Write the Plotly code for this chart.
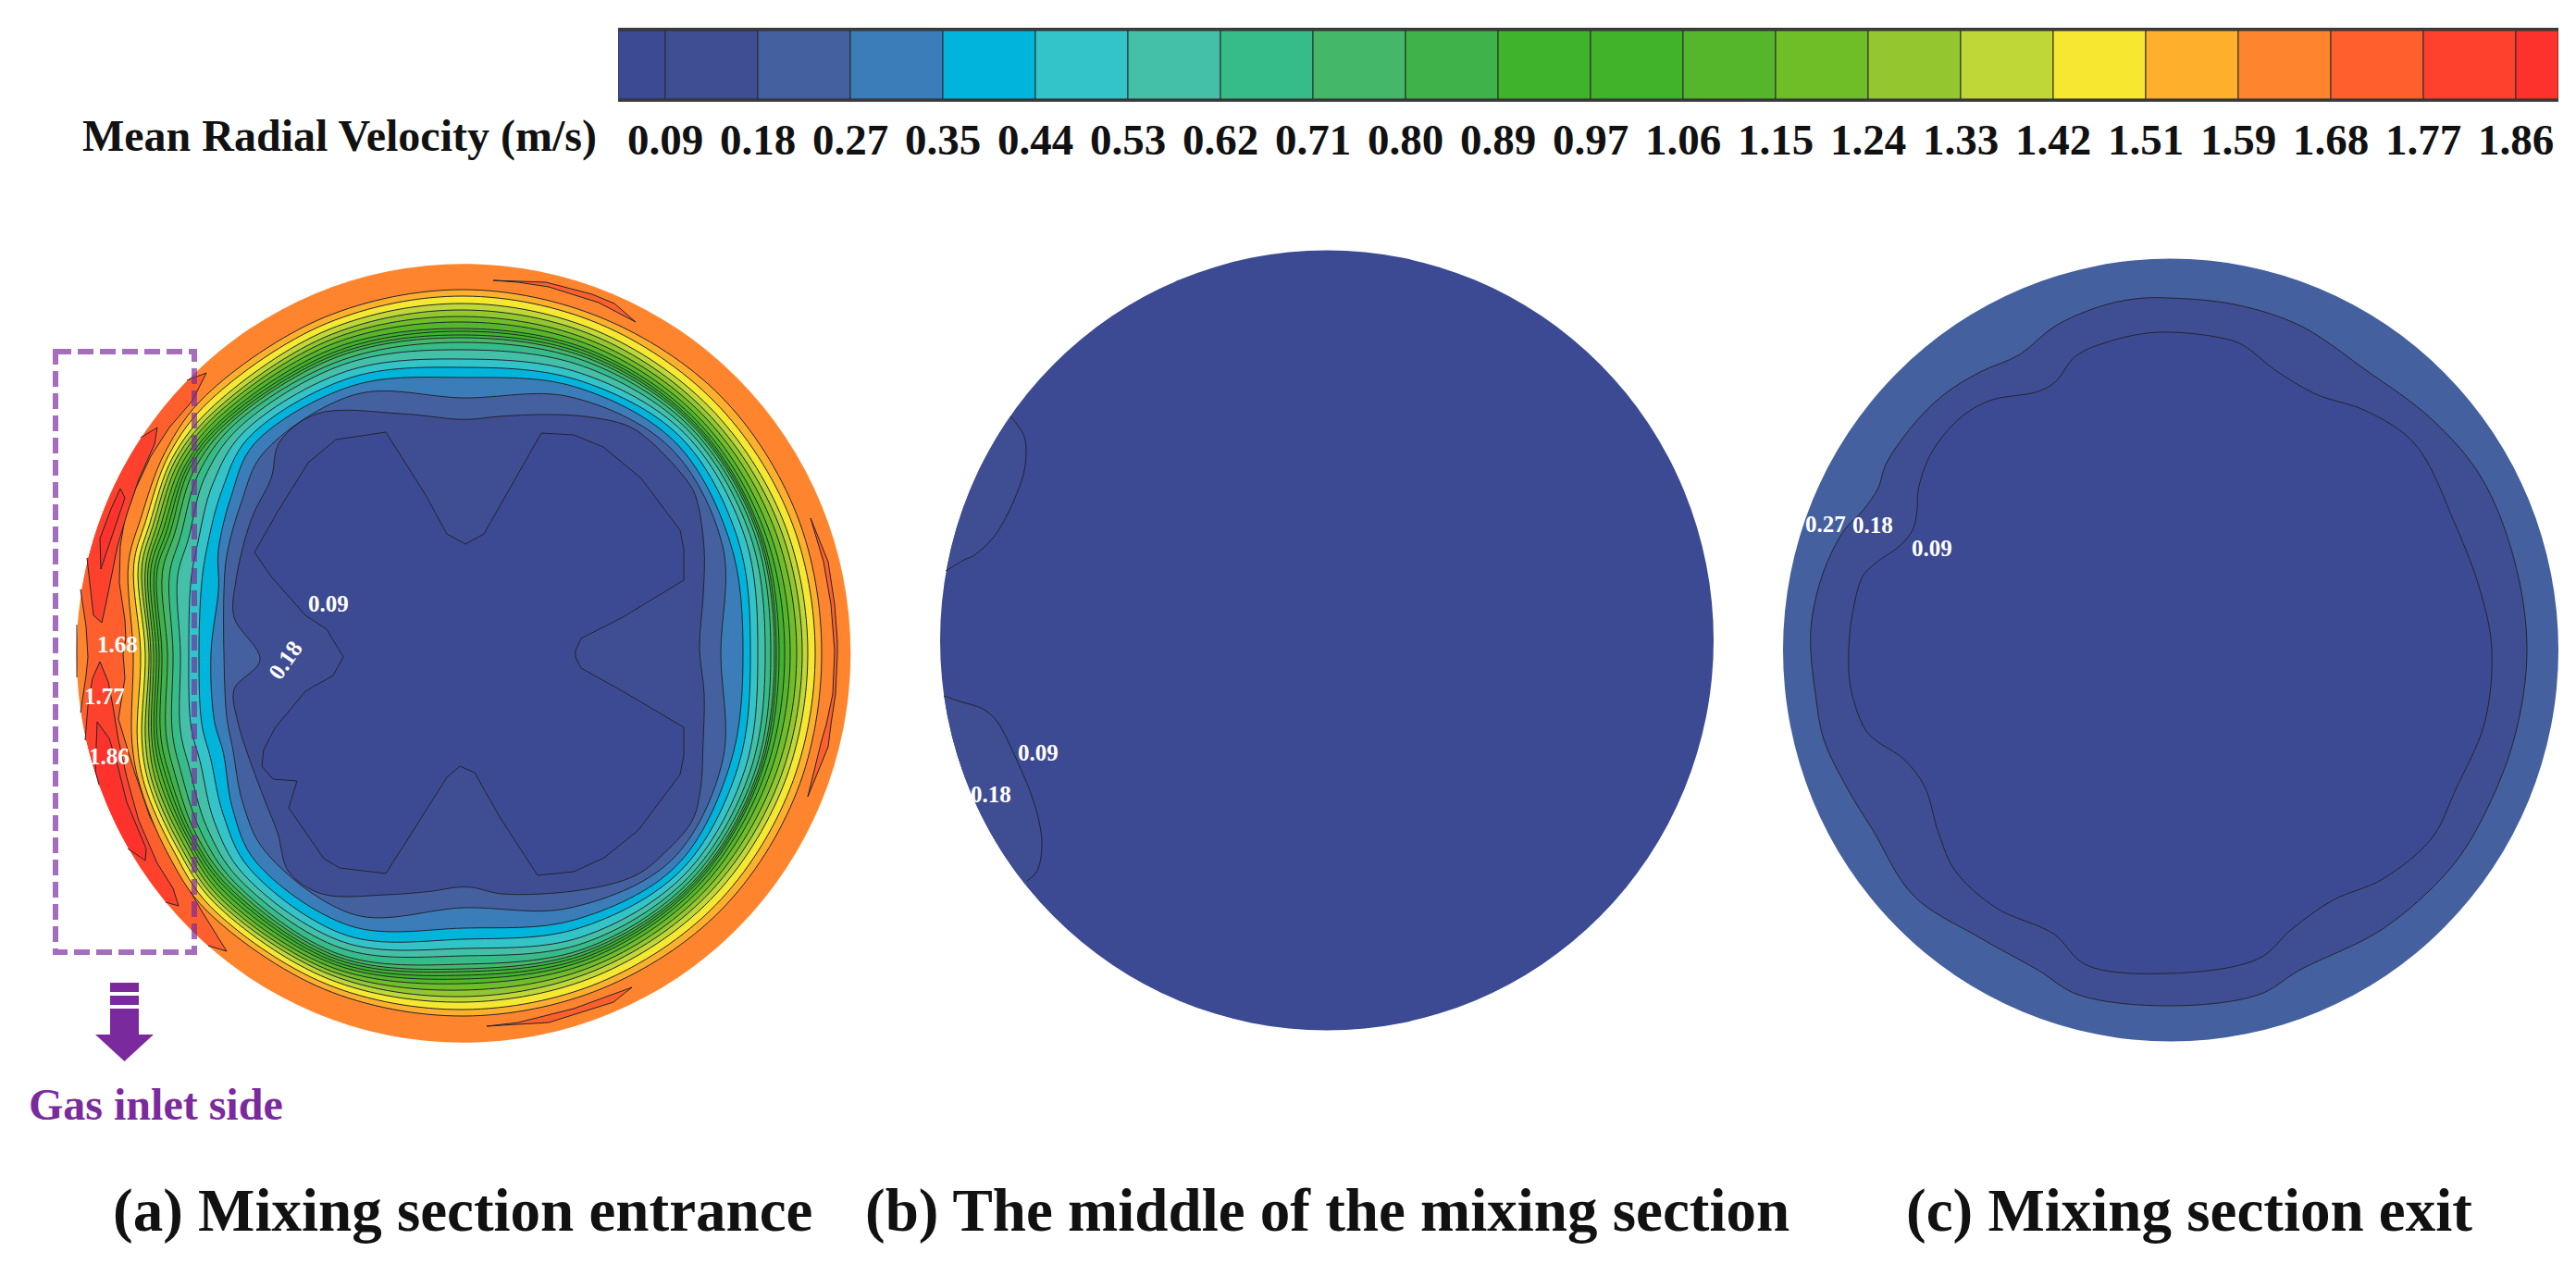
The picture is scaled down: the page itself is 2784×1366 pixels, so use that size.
import math
import plotly.graph_objects as go

W, H = 2784, 1366

# ---------- colour scale ----------
TICK_LABELS = ["0.09","0.18","0.27","0.35","0.44","0.53","0.62","0.71","0.80","0.89","0.97",
               "1.06","1.15","1.24","1.33","1.42","1.51","1.59","1.68","1.77","1.86"]
BAND_COLORS = ["#3B4A92","#3F4D93","#45609F","#3A7DB8","#00B4DC","#32C4C8","#44C0A8","#36BC88",
               "#44B868","#3EB34A","#3FB32C","#40B32B","#55B62B","#6FBE27","#93C72F","#BFD837",
               "#F6E831","#FEB02D","#FE852D","#FE5F2C","#FE412C","#FE322C"]

# ---------- panel (a): isoline radius (reference px from disk centre) by angle ----------
A_CENTER = (501, 706)
A_RX, A_RY = 418.3, 420.8
THETA_DEG = [0,22.5,45,67.5,90,112.5,135,146,157.5,165,180,195,202.5,214,225,247.5,270,292.5,315,337.5]
ISO_027 = [278,303,315,300,276,303,306,290,277,268,259,265,270,288,303,306,275,298,317,303]
ISO_035 = [302,312,323,312,298,313,320,303,287,274,273,279,281,301,318,319,297,312,325,312]
ISO_044 = [310,321,331,320,309,322,329,315,300,293,286,293,296,313,328,330,309,322,332,321]
ISO_053 = [318,329,337,328,318,330,337,327,311,305,297,305,308,325,337,338,319,332,338,329]
ISO_062 = [326,335,342,336,328,338,344,338,322,320,306,317,321,335,344,345,327,339,343,335]
ISO_071 = [332,340,346,342,336,343,350,346,331,329,314,326,331,343,350,352,336,345,347,340]
ISO_080 = [336,343,349,346,341,348,354,352,338,337,320,333,338,349,354,355,341,348,350,343]
ISO_089 = [338,345,351,349,344,351,357,357,343,343,326,339,344,353,358,358,344,351,352,345]
ISO_097 = [341,347,353,352,348,354,360,360,347,346,329,343,348,356,361,361,348,354,354,347]
ISO_106 = [347,351,356,355,351,358,363,363,351,350,332,346,352,359,365,364,352,357,357,351]
ISO_115 = [353,356,360,360,358,363,367,367,355,353,335,349,356,362,369,368,357,361,361,356]
ISO_124 = [360,362,365,365,364,368,371,371,359,356,338,352,360,366,373,372,364,366,366,362]
ISO_133 = [366,368,370,371,371,373,375,375,363,360,340,356,364,370,377,376,371,371,371,368]
ISO_142 = [372,374,376,377,378,379,380,379,367,364,344,360,368,374,381,381,377,377,377,374]
ISO_151 = [380,382,384,385,386,386,387,384,372,369,349,365,373,379,387,387,385,385,385,382]
ISO_159 = [387,390,393,392,393,393,394,389,378,375,357,371,378,386,393,393,392,392,393,390]
A_RINGS = [(18,ISO_159),(17,ISO_151),(16,ISO_142),(15,ISO_133),(14,ISO_124),(13,ISO_115),(12,ISO_106),
           (11,ISO_097),(10,ISO_089),(9,ISO_080),(8,ISO_071),(7,ISO_062),(6,ISO_053),(5,ISO_044),
           (4,ISO_035),(3,ISO_027)]

A_ISO_018 = [(253,667),(281,713),(253,745),(257,780),(267,813),(287,867),(300,900),(312,942),(348,966),
             (417,967),(467,963),(493,959),(510,959),(543,966),(627,962),(687,946),(720,920),(748,887),
             (757,853),(760,800),(761,750),(756,700),(760,643),(761,593),(753,540),(745,523),(703,477),
             (678,460),(632,450),(590,448),(540,450),(510,453),(493,453),(433,447),(343,447),(302,478),
             (293,517),(272,560),(255,627),(253,667)]
A_ISO_009 = [(417,467),(363,475),(333,500),(300,553),(275,597),(293,623),(330,665),(353,680),(371,710),
             (360,730),(330,747),(297,787),(285,810),(283,828),(295,842),(321,844),(312,873),(350,928),
             (367,938),(417,944),(447,897),(483,840),(497,828),(513,835),(540,883),(581,946),(620,942),
             (653,927),(690,897),(723,853),(735,837),(739,817),(739,786),(673,747),(628,722),(622,710),
             (622,703),(628,690),(673,667),(739,627),(739,593),(735,573),(693,517),(652,483),(620,470),
             (585,468),(523,577),(503,588),(483,577),(460,535),(417,467)]

A_168_INNER = [(202,411),(223,403),(208,433),(183,462),(163,493),(147,527),(135,560),(130,590),(129,630),
               (135,670),(136,690),(133,707),(135,733),(128,777),(145,833),(162,883),(180,917),(198,950),
               (217,983),(233,1008),(245,1028),(225,1022)]
A_168_WEST = [(87,770),(93,730),(95,710),(93,677),(87,637)]
A_159_WEST = [(83,675),(83,700),(83,732)]
A_177_UPPER = [(152,473),(170,462),(167,480),(150,518),(138,553),(127,590),(115,650),(110,673),(101,665),(94,603)]
A_177_LOWER = [(92,800),(95,763),(100,733),(108,715),(117,737),(122,763),(128,800),(137,840),(150,887),
               (170,933),(187,960),(193,979),(179,975)]
A_186_LOWER = [(107,848),(103,833),(105,780),(118,798),(127,827),(137,867),(158,917),(157,930),(138,917)]
A_186_ISLAND = [(130,528),(135,538),(109,615),(108,582),(120,550),(130,528)]
A_168_NORTH = [(533,303),(590,305),(640,318),(664,328),(687,348),(647,327),(593,310),(560,305),(533,303)]
A_168_EAST = [(876,560),(895,607),(902,653),(905,693),(905,707),(903,750),(898,783),(895,807),(873,861),
              (888,800),(893,783),(900,750),(902,703),(898,653),(890,607),(876,560)]
A_168_SOUTH = [(526,1109),(593,1105),(663,1083),(683,1067),(620,1090),(560,1105),(526,1109)]

# ---------- panel (b) ----------
B_CENTER = (1434, 692)
B_RX, B_RY = 418, 421.5
B_018_UPPER = [(1092,450),(1107,472),(1108,503),(1097,538),(1075,579),(1053,600),(1042,605),(1022,617)]
B_018_LOWER = [(1020,752),(1037,758),(1062,766),(1077,779),(1100,824),(1118,869),(1126,910),(1121,941),(1110,952)]

# ---------- panel (c) ----------
C_CENTER = (2346, 702.5)
C_RX, C_RY = 419, 423
C_ISO_018 = [(2307,323),(2267,332),(2220,353),(2183,383),(2140,402),(2100,427),(2067,460),(2038,502),(2030,527),
             (2013,552),(1993,573),(1970,620),(1958,670),(1957,703),(1962,750),(1971,799),(1997,853),(2024,897),
             (2068,968),(2139,1013),(2202,1048),(2246,1075),(2344,1087),(2441,1075),(2486,1048),(2575,1004),
             (2646,941),(2681,888),(2717,799),(2731,702),(2717,604),(2681,515),(2628,453),(2557,400),(2486,352),
             (2415,329),(2344,322),(2307,323)]
C_ISO_009 = [(2400,365),(2333,359),(2283,368),(2243,385),(2222,412),(2203,423),(2150,433),(2117,453),(2087,490),
             (2073,530),(2072,550),(2067,573),(2053,590),(2025,610),(2013,623),(2002,663),(1998,703),(2000,743),
             (2015,787),(2027,800),(2057,820),(2080,850),(2095,900),(2113,941),(2157,981),(2219,1009),(2255,1043),
             (2344,1052),(2441,1036),(2477,1004),(2521,973),(2575,950),(2628,906),(2654,853),(2685,782),(2693,702),
             (2681,640),(2654,568),(2610,480),(2557,444),(2503,426),(2459,400),(2424,373),(2400,365)]

# ---------- text ----------
CBAR_TITLE = "Mean Radial Velocity (m/s)"
PANEL_TITLES = ["(a) Mixing section entrance", "(b) The middle of the mixing section", "(c) Mixing section exit"]
PANEL_TITLE_X = [500, 1434, 2366]
INLET_TEXT = "Gas inlet side"
A_LABELS = [("0.09",355,652,0),("1.68",127,696,0),("0.18",308,713,-55),("1.77",113,752,0),("1.86",118,817,0)]
B_LABELS = [("0.09",1122,813,0),("0.18",1071,858,0)]
C_LABELS = [("0.27",1973,566,0),("0.18",2024,567,0),("0.09",2088,592,0)]

SERIF = "Liberation Serif"
PURPLE = "#7B2A9E"
LINE = "#22262E"

fig = go.Figure()

# panel boxes (reference px) -> own axes
BOXES = {"2": (0, 250, 960, 1160), "3": (960, 250, 1900, 1160), "4": (1900, 250, 2784, 1160)}
layout_axes = {}
for k, (x0, y0, x1, y1) in BOXES.items():
    layout_axes["xaxis" + k] = dict(domain=[x0 / W, x1 / W], range=[x0, x1], visible=False, anchor="y" + k, fixedrange=True)
    layout_axes["yaxis" + k] = dict(domain=[1 - y1 / H, 1 - y0 / H], range=[y1, y0], visible=False, anchor="x" + k, fixedrange=True)


def poly(k, pts, color=None, line=True, spline=False, lw=1.0):
    xs = [p[0] for p in pts]
    ys = [p[1] for p in pts]
    fig.add_trace(go.Scatter(
        x=xs, y=ys, xaxis="x" + k, yaxis="y" + k, mode="lines", hoverinfo="skip", showlegend=False,
        fill="toself" if color else "none", fillcolor=color,
        line=dict(color=LINE if line else "rgba(0,0,0,0)", width=lw if line else 0,
                  shape="spline" if spline else "linear", smoothing=1.0),
    ))


def rim(p, q, c, rx, ry, step=3.0):
    a = math.atan2(p[1] - c[1], p[0] - c[0])
    b = math.atan2(q[1] - c[1], q[0] - c[0])
    d = (b - a + math.pi) % (2 * math.pi) - math.pi
    n = max(2, int(abs(math.degrees(d)) / step))
    return [(c[0] + rx * math.cos(a + d * i / n), c[1] + ry * math.sin(a + d * i / n)) for i in range(n + 1)]


def clipped(pts, color, c, rx, ry):
    poly("2", pts + rim(pts[-1], pts[0], c, rx, ry), color, line=False)
    poly("2", pts)


def ring(radii, c):
    pts = [(c[0] + r * math.cos(math.radians(t)), c[1] - r * math.sin(math.radians(t))) for r, t in zip(radii, THETA_DEG)]
    return pts + pts[:1]


shapes = []


def disk(k, c, rx, ry, color):
    shapes.append(dict(type="circle", xref="x" + k, yref="y" + k, x0=c[0] - rx, x1=c[0] + rx, y0=c[1] - ry, y1=c[1] + ry,
                       fillcolor=color, line=dict(width=0), layer="below"))


# ---------- panel a ----------
disk("2", A_CENTER, A_RX, A_RY, BAND_COLORS[18])
crescent = A_168_INNER + rim(A_168_INNER[-1], A_168_WEST[0], A_CENTER, A_RX, A_RY) + A_168_WEST \
           + rim(A_168_WEST[-1], A_168_INNER[0], A_CENTER, A_RX, A_RY)
poly("2", crescent, BAND_COLORS[19], line=False)
poly("2", A_168_INNER)
poly("2", A_168_WEST)
poly("2", A_159_WEST)
clipped(A_177_UPPER, BAND_COLORS[20], A_CENTER, A_RX, A_RY)
clipped(A_177_LOWER, BAND_COLORS[20], A_CENTER, A_RX, A_RY)
clipped(A_186_LOWER, BAND_COLORS[21], A_CENTER, A_RX, A_RY)
poly("2", A_186_ISLAND, BAND_COLORS[21])
for isl in (A_168_NORTH, A_168_EAST, A_168_SOUTH):
    poly("2", isl, BAND_COLORS[19])
for idx, radii in A_RINGS:
    poly("2", ring(radii, A_CENTER), BAND_COLORS[idx - 1], spline=True)
poly("2", A_ISO_018, BAND_COLORS[1], spline=True)
poly("2", A_ISO_009, BAND_COLORS[0])

# ---------- panel b ----------
disk("3", B_CENTER, B_RX, B_RY, BAND_COLORS[0])
for pts in (B_018_UPPER, B_018_LOWER):
    poly("3", pts + rim(pts[-1], pts[0], B_CENTER, B_RX, B_RY), BAND_COLORS[1], line=False)
    poly("3", pts, spline=True)

# ---------- panel c ----------
disk("4", C_CENTER, C_RX, C_RY, BAND_COLORS[2])
poly("4", C_ISO_018, BAND_COLORS[1], spline=True)
poly("4", C_ISO_009, BAND_COLORS[0], spline=True)


def bold(s):
    return "<b>" + s + "</b>"


# ---------- colour bar ----------
n = len(TICK_LABELS)
left_stub, right_stub = 0.51, 0.46
edges = [-left_stub] + list(range(n - 1)) + [n - 1]
widths = [left_stub] + [1] * (n - 1) + [right_stub]
fig.add_trace(go.Bar(
    y=[0] * len(BAND_COLORS), x=widths, base=edges, orientation="h", width=1,
    marker=dict(color=BAND_COLORS, line=dict(color="#2A2A2A", width=1)),
    hoverinfo="skip", showlegend=False, xaxis="x", yaxis="y",
))
layout_axes["xaxis"] = dict(domain=[668 / W, 2765 / W], range=[-left_stub, n - 1 + right_stub], anchor="y",
                            tickmode="array", tickvals=list(range(n)), ticktext=[bold(t) for t in TICK_LABELS], tickangle=0,
                            ticks="outside", ticklen=1, tickcolor="rgba(0,0,0,0)", showgrid=False, zeroline=False,
                            showline=True, mirror=True, linecolor="#3A3A3A", linewidth=3,
                            tickfont=dict(family=SERIF, size=47, color="#111111"), fixedrange=True)
layout_axes["yaxis"] = dict(domain=[1 - 107 / H, 1 - 33 / H], range=[-0.5, 0.5], anchor="x", visible=False, fixedrange=True)

# ---------- annotations ----------
ann = []
ann.append(dict(text=bold(CBAR_TITLE), xref="paper", yref="paper", x=87 / W, y=1 - 147 / H, xanchor="left", yanchor="middle",
                showarrow=False, font=dict(family=SERIF, size=48, color="#111111")))
for t, x in zip(PANEL_TITLES, PANEL_TITLE_X):
    ann.append(dict(text=bold(t), xref="paper", yref="paper", x=x / W, y=1 - 1308 / H, xanchor="center", yanchor="middle",
                    showarrow=False, font=dict(family=SERIF, size=65, color="#111111")))
ann.append(dict(text=bold(INLET_TEXT), xref="paper", yref="paper", x=168 / W, y=1 - 1193 / H, xanchor="center", yanchor="middle",
                showarrow=False, font=dict(family=SERIF, size=48, color=PURPLE)))
for k, labels in (("2", A_LABELS), ("3", B_LABELS), ("4", C_LABELS)):
    for t, x, y, rot in labels:
        ann.append(dict(text=bold(t), xref="x" + k, yref="y" + k, x=x, y=y, showarrow=False, textangle=rot,
                        xanchor="center", yanchor="middle", font=dict(family=SERIF, size=25, color="white")))

# ---------- gas inlet marker ----------
shapes.append(dict(type="rect", xref="x2", yref="y2", x0=60, x1=210, y0=380, y1=1029,
                   line=dict(color="rgba(123,42,158,0.68)", width=6, dash="17px,7px"), layer="above"))
for y0, y1 in ((1062, 1072), (1076, 1086), (1090, 1118)):
    shapes.append(dict(type="rect", xref="x2", yref="y2", x0=119, x1=150, y0=y0, y1=y1, fillcolor=PURPLE, line=dict(width=0)))
shapes.append(dict(type="path", xref="x2", yref="y2", path="M 103 1118 L 166 1118 L 134.5 1147 Z", fillcolor=PURPLE, line=dict(width=0)))

fig.update_layout(width=W, height=H, autosize=False, margin=dict(l=0, r=0, t=0, b=0, pad=0),
                  paper_bgcolor="white", plot_bgcolor="rgba(0,0,0,0)", showlegend=False, barmode="overlay",
                  shapes=shapes, annotations=ann, **layout_axes)

fig.write_html("out.html", config={"displayModeBar": False},
               post_script="document.body.style.margin='0';document.body.style.overflow='hidden';")
